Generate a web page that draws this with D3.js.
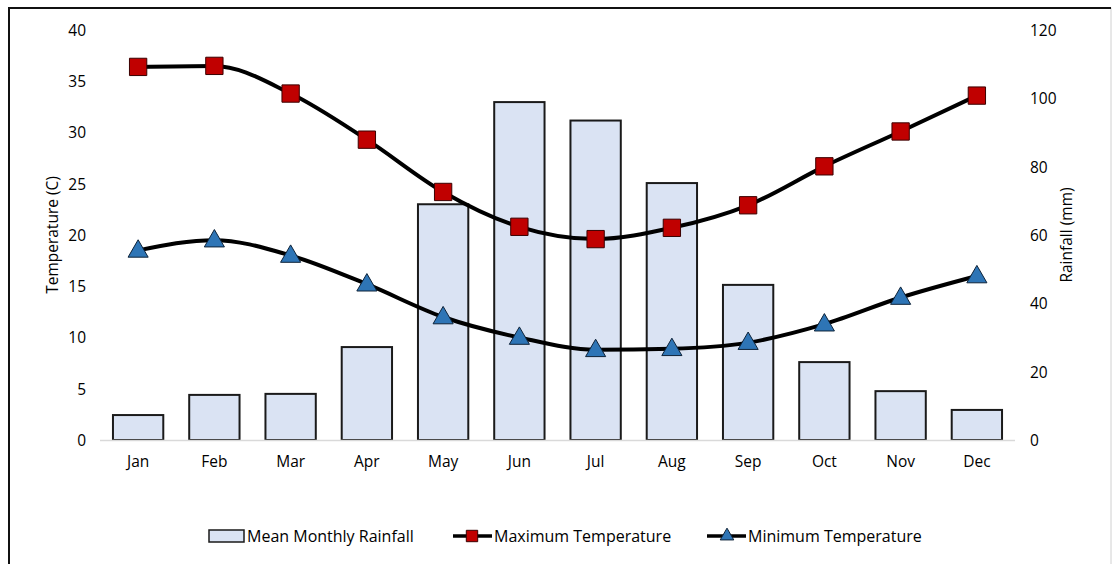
<!DOCTYPE html>
<html>
<head>
<meta charset="utf-8">
<script src="https://cdn.jsdelivr.net/npm/d3@7"></script>
<style>
  body { margin: 0; background: #fff; }
  svg text { font-family: "Open Sans", "Liberation Sans", sans-serif; fill: #000; }
</style>
</head>
<body>
<script>
// monthly climate values
var months = ["Jan","Feb","Mar","Apr","May","Jun","Jul","Aug","Sep","Oct","Nov","Dec"];
var rainfall = [7.3, 13.2, 13.5, 27.2, 69, 98.9, 93.5, 75.2, 45.4, 22.8, 14.3, 8.8];
var maxTemp = [36.4, 36.5, 33.8, 29.3, 24.2, 20.8, 19.6, 20.7, 22.9, 26.7, 30.1, 33.6];
var minTemp = [18.5, 19.5, 18.0, 15.2, 12.0, 10.0, 8.8, 8.9, 9.5, 11.3, 13.9, 16.0];
var tempTicks = [0, 5, 10, 15, 20, 25, 30, 35, 40];
var rainTicks = [0, 20, 40, 60, 80, 100, 120];

var W = 1113, H = 564;
var plot = { left: 100, right: 1015, top: 30, bottom: 440 };

var svg = d3.select("body").append("svg")
    .attr("width", W)
    .attr("height", H);

// frame of the original picture
svg.append("rect")
    .attr("x", 9).attr("y", 8)
    .attr("width", 1102).attr("height", 560)
    .attr("fill", "none")
    .attr("stroke", "#d0d0d0").attr("stroke-width", 1);
svg.append("line").attr("x1", 9).attr("x2", 1111).attr("y1", 8).attr("y2", 8)
    .attr("stroke", "#111").attr("stroke-width", 2);
svg.append("line").attr("x1", 9).attr("x2", 9).attr("y1", 7).attr("y2", 564)
    .attr("stroke", "#111").attr("stroke-width", 2);

var x = d3.scaleBand()
    .domain(months)
    .range([plot.left, plot.right])
    .paddingInner(0.34)
    .paddingOuter(0.17);

var yT = d3.scaleLinear().domain([0, 40]).range([plot.bottom, plot.top]);
var yR = d3.scaleLinear().domain([0, 120]).range([plot.bottom, plot.top]);

function cx(m) { return x(m) + x.bandwidth() / 2; }

// left axis
var leftAxis = d3.axisLeft(yT).tickValues(tempTicks).tickSize(0).tickPadding(0);
svg.append("g")
    .attr("transform", "translate(86,0)")
    .call(leftAxis)
    .call(function(g) { g.select(".domain").remove(); })
    .selectAll("text")
    .attr("font-size", 15.5)
    .attr("dy", "0.35em");

// right axis
var rightAxis = d3.axisRight(yR).tickValues(rainTicks).tickSize(0).tickPadding(0);
svg.append("g")
    .attr("transform", "translate(1030,0)")
    .call(rightAxis)
    .call(function(g) { g.select(".domain").remove(); })
    .selectAll("text")
    .attr("font-size", 15.5)
    .attr("dy", "0.35em");

// axis titles
svg.append("text")
    .attr("transform", "translate(58," + ((plot.top + plot.bottom) / 2) + ") rotate(-90)")
    .attr("text-anchor", "middle")
    .attr("font-size", 15.5)
    .text("Temperature (C)");

svg.append("text")
    .attr("transform", "translate(1072," + ((plot.top + plot.bottom) / 2) + ") rotate(-90)")
    .attr("text-anchor", "middle")
    .attr("font-size", 15.5)
    .text("Rainfall (mm)");

// bars
svg.append("g").selectAll("rect")
    .data(rainfall)
    .enter().append("rect")
    .attr("x", function(d, i) { return x(months[i]); })
    .attr("y", function(d) { return yR(d); })
    .attr("width", x.bandwidth())
    .attr("height", function(d) { return yR(0) - yR(d); })
    .attr("fill", "#dae3f3")
    .attr("stroke", "#1a1a1a")
    .attr("stroke-width", 2);

// baseline
svg.append("line")
    .attr("x1", plot.left).attr("x2", plot.right)
    .attr("y1", plot.bottom + 0.5).attr("y2", plot.bottom + 0.5)
    .attr("stroke", "#d9d9d9").attr("stroke-width", 1.5);

// x axis labels
var bottomAxis = d3.axisBottom(x).tickSize(0).tickPadding(0);
svg.append("g")
    .attr("transform", "translate(0,467)")
    .call(bottomAxis)
    .call(function(g) { g.select(".domain").remove(); })
    .selectAll("text")
    .attr("font-size", 15.5)
    .attr("dy", "0");

var line = d3.line()
    .x(function(d, i) { return cx(months[i]); })
    .y(function(d) { return yT(d); })
    .curve(d3.curveMonotoneX);

svg.append("path")
    .datum(maxTemp)
    .attr("d", line)
    .attr("fill", "none")
    .attr("stroke", "#000")
    .attr("stroke-width", 4);

svg.append("path")
    .datum(minTemp)
    .attr("d", line)
    .attr("fill", "none")
    .attr("stroke", "#000")
    .attr("stroke-width", 4);

var sq = d3.symbol().type(d3.symbolSquare).size(300);
var tri = d3.symbol().type(d3.symbolTriangle).size(175);

svg.append("g").selectAll("path")
    .data(maxTemp)
    .enter().append("path")
    .attr("d", sq)
    .attr("transform", function(d, i) { return "translate(" + cx(months[i]) + "," + yT(d) + ")"; })
    .attr("fill", "#c00000")
    .attr("stroke", "#3a0000")
    .attr("stroke-width", 1);

svg.append("g").selectAll("path")
    .data(minTemp)
    .enter().append("path")
    .attr("d", tri)
    .attr("transform", function(d, i) { return "translate(" + cx(months[i]) + "," + (yT(d) + 1) + ")"; })
    .attr("fill", "#2e75b6")
    .attr("stroke", "#0d2238")
    .attr("stroke-width", 1);

// legend
var legend = svg.append("g").attr("transform", "translate(0,536)");

legend.append("rect")
    .attr("x", 209).attr("y", -6)
    .attr("width", 35).attr("height", 12)
    .attr("fill", "#dae3f3")
    .attr("stroke", "#1a1a1a").attr("stroke-width", 1.5);
legend.append("text")
    .attr("x", 247).attr("dy", "0.35em")
    .attr("font-size", 16)
    .text("Mean Monthly Rainfall");

legend.append("line")
    .attr("x1", 453).attr("x2", 492)
    .attr("stroke", "#000").attr("stroke-width", 3.5);
legend.append("path")
    .attr("d", d3.symbol().type(d3.symbolSquare).size(130))
    .attr("transform", "translate(472,0)")
    .attr("fill", "#c00000").attr("stroke", "#3a0000").attr("stroke-width", 1);
legend.append("text")
    .attr("x", 494).attr("dy", "0.35em")
    .attr("font-size", 16)
    .text("Maximum Temperature");

legend.append("line")
    .attr("x1", 707).attr("x2", 746)
    .attr("stroke", "#000").attr("stroke-width", 3.5);
legend.append("path")
    .attr("d", d3.symbol().type(d3.symbolTriangle).size(80))
    .attr("transform", "translate(727,0)")
    .attr("fill", "#2e75b6").attr("stroke", "#0d2238").attr("stroke-width", 1);
legend.append("text")
    .attr("x", 748).attr("dy", "0.35em")
    .attr("font-size", 16)
    .text("Minimum Temperature");
</script>
</body>
</html>
